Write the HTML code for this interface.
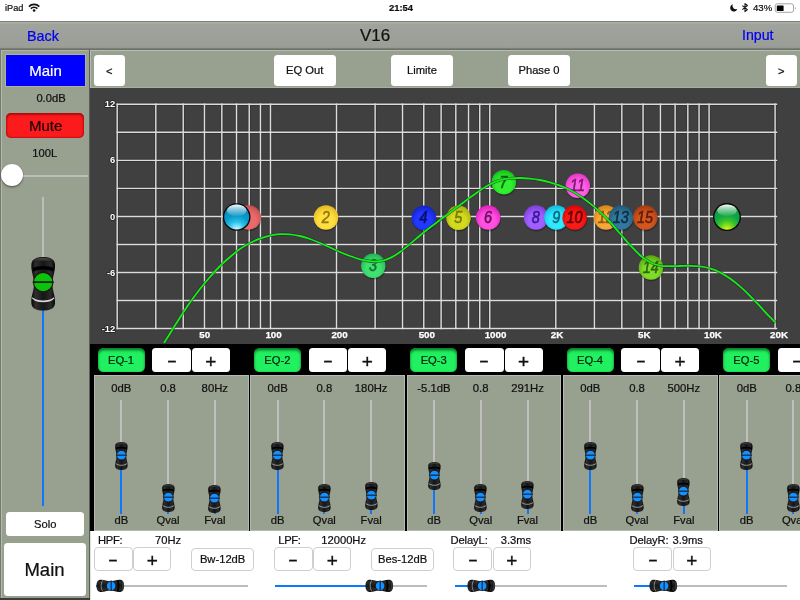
<!DOCTYPE html>
<html><head><meta charset="utf-8"><title>V16</title>
<style>
html,body{margin:0;padding:0;}
body{width:800px;height:600px;position:relative;overflow:hidden;background:#3c3e3a;font-family:"Liberation Sans",sans-serif;}
div,span.t{position:absolute;box-sizing:border-box;}
span.s{position:absolute;width:20px;line-height:20px;text-align:center;color:#111;-webkit-text-stroke:.35px #111;}
span.t{white-space:nowrap;-webkit-text-stroke:.22px currentColor;}
.btn{background:#fff;border-radius:3.5px;}
.btn2{background:#fff;border-radius:4px;border:1px solid #cfcfcf;}
.panel{background:#98a090;box-shadow:inset 0 0 0 1px #b4bab0;}
svg{position:absolute;left:0;top:0;overflow:visible;}
</style></head><body>

<div id="status" style="left:0;top:0;width:800px;height:21.5px;background:#fff"></div>
<span class="t" style="left:5.00px;top:4.06px;font-size:9.2px;line-height:9.2px;color:#111;font-weight:normal;font-style:normal;">iPad</span>
<span class="t" style="left:401.00px;top:3.39px;font-size:9.4px;line-height:9.4px;color:#111;font-weight:bold;font-style:normal;transform:translateX(-50%);">21:54</span>
<span class="t" style="left:753.00px;top:2.92px;font-size:9.6px;line-height:9.6px;color:#111;font-weight:normal;font-style:normal;">43%</span>
<svg width="800" height="22" viewBox="0 0 800 22">
<g fill="none" stroke="#111" stroke-width="1.6" stroke-linecap="butt">
<path d="M28.9 6.6 A7.3 7.3 0 0 1 39.3 6.6"/>
<path d="M30.8 8.6 A4.6 4.6 0 0 1 37.4 8.6"/>
</g>
<circle cx="34.1" cy="10.5" r="1.3" fill="#111"/>
<path d="M732.7 4.3 A3.7 3.7 0 1 0 737.4 8.9 A3.5 3.5 0 0 1 732.7 4.3 Z" fill="#111"/>
<path d="M742.3 5.6 L747.4 9.7 L745 11.6 L745 3.6 L747.4 5.5 L742.3 9.6" fill="none" stroke="#111" stroke-width="1.05" stroke-linejoin="round"/>
<rect x="775.2" y="3.8" width="18.4" height="8.5" rx="2.2" fill="#fff" stroke="#a4a4a4" stroke-width="1"/>
<rect x="776.8" y="5.4" width="6.8" height="5.6" rx="0.6" fill="#000"/>
<path d="M795 6.9 v2.6 a1.2 1.4 0 0 0 0 -2.6z" fill="#9a9a9a"/>
</svg>
<div id="nav" style="left:0;top:21.3px;width:800px;height:28.7px;background:linear-gradient(to bottom,#787b75 0,#7e817b .9px,#adb1a8 1.3px,#a6aaa1 2.2px,#a0a39b 3.2px,#9ea199 14px,#9b9e96 26.2px,#90948b 27.2px,#6c7068 27.7px,#6c7068 28.7px)"></div>
<span class="t" style="left:27.00px;top:29.35px;font-size:14.3px;line-height:14.3px;color:#0000f0;font-weight:normal;font-style:normal;">Back</span>
<span class="t" style="left:375.00px;top:27.26px;font-size:17px;line-height:17px;color:#111;font-weight:normal;font-style:normal;transform:translateX(-50%);">V16</span>
<span class="t" style="left:742.00px;top:28.13px;font-size:14.2px;line-height:14.2px;color:#0000f0;font-weight:normal;font-style:normal;">Input</span>
<div class="panel" style="left:0.00px;top:49.70px;width:89.50px;height:548.80px;box-shadow:inset .9px 0 0 #6e726a, inset 1.9px 0 0 #b6bcb1, inset -1px 0 0 #aeb4a9, inset 0 1.1px 0 #adb4a6;"></div>
<div class="" style="left:89.10px;top:49.20px;width:1.20px;height:550.80px;background:#5a5e57;"></div>
<div class="" style="left:0.00px;top:598.00px;width:90.00px;height:2.00px;background:#3c3e3a;"></div>
<div class="" style="left:6.00px;top:54.65px;width:78.50px;height:31.35px;background:#0000ff;box-shadow:0 0 0 0.7px #b9b98a;"></div>
<span class="t" style="left:45.50px;top:63.35px;font-size:15px;line-height:15px;color:#fff;font-weight:normal;font-style:normal;transform:translateX(-50%);">Main</span>
<span class="t" style="left:51.00px;top:92.87px;font-size:11.2px;line-height:11.2px;color:#111;font-weight:normal;font-style:normal;transform:translateX(-50%);">0.0dB</span>
<div class="" style="left:6.00px;top:113.00px;width:78.00px;height:25.00px;background:#fb1a1c;border-radius:5px;box-shadow:inset 0 2px 2px rgba(120,0,0,.55), inset 0 -1px 1px rgba(150,0,0,.35), inset 1.5px 0 1.5px rgba(150,0,0,.3), inset -1.5px 0 1.5px rgba(150,0,0,.3);"></div>
<span class="t" style="left:45.70px;top:118.35px;font-size:15px;line-height:15px;color:#1a0000;font-weight:normal;font-style:normal;transform:translateX(-50%);">Mute</span>
<span class="t" style="left:44.70px;top:148.17px;font-size:11.2px;line-height:11.2px;color:#111;font-weight:normal;font-style:normal;transform:translateX(-50%);">100L</span>
<div class="" style="left:20.00px;top:175.20px;width:68.00px;height:1.60px;background:#bdbdbd;"></div>
<div class="" style="left:1.00px;top:163.80px;width:22.20px;height:22.20px;background:#fff;border-radius:50%;box-shadow:0 1.5px 2px rgba(0,0,0,.35),0 0 0 .5px rgba(0,0,0,.12);"></div>
<div class="" style="left:42.10px;top:197.00px;width:1.80px;height:88.00px;background:#bdbdbd;"></div>
<div class="" style="left:42.00px;top:300.00px;width:2.00px;height:206.00px;background:#0a78ff;"></div>
<svg width="24.40" height="53.50" viewBox="0 0 24 53" preserveAspectRatio="none" style="left:30.80px;top:256.75px;">
<defs><linearGradient id="kg1" x1="0" x2="1" y1="0" y2="0"><stop offset="0" stop-color="#050505"/><stop offset=".18" stop-color="#2e2e2e"/><stop offset=".5" stop-color="#161616"/><stop offset=".82" stop-color="#2a2a2a"/><stop offset="1" stop-color="#050505"/></linearGradient>
<linearGradient id="kh1" x1="0" x2="0" y1="0" y2="1"><stop offset="0" stop-color="#4a4a4a"/><stop offset="1" stop-color="#0a0a0a"/></linearGradient></defs>
<path d="M12 0C18 0 23 1.5 23.6 7C24.2 14 21 20 21 26.5C21 33 24.2 39 23.6 46C23 51.5 18 53 12 53C6 53 1 51.5 .4 46C-.2 39 3 33 3 26.5C3 20 -.2 14 .4 7C1 1.5 6 0 12 0Z" fill="url(#kg1)"/>
<path d="M1.2 6.5C3 2.2 8 1 12 1C16 1 21 2.2 22.8 6.5C20 4.6 16 4 12 4C8 4 4 4.6 1.2 6.5Z" fill="url(#kh1)"/>
<path d="M1.5 11C6 8.2 18 8.2 22.5 11C22.3 12.5 22 13.6 21.8 14.4C17 11.6 7 11.6 2.2 14.4C2 13.6 1.7 12.5 1.5 11Z" fill="#000"/>
<path d="M1.4 39.9C6 44.3 18 44.3 22.6 39.9C22.7 40.3 22.8 40.7 22.9 41.1C18 46.2 6 46.2 1.1 41.1C1.2 40.7 1.3 40.3 1.4 39.9Z" fill="#ececec" opacity="0.9"/>

<circle cx="12" cy="24.9" r="10.1" fill="#1c1210"/>
<circle cx="12" cy="24.9" r="9.0" fill="#0cc30c"/>
<rect x="1.8" y="24.0" width="20.4" height="1.8" fill="#0b5a0b"/>
<rect x="1.8" y="24.25" width="20.4" height="1.3" fill="#0c1410" opacity=".9"/>
</svg>
<div class="btn" style="left:6.20px;top:512.00px;width:78.20px;height:24.00px;"></div>
<span class="t" style="left:45.20px;top:518.97px;font-size:11.2px;line-height:11.2px;color:#111;font-weight:normal;font-style:normal;transform:translateX(-50%);">Solo</span>
<div class="btn" style="left:4.20px;top:543.00px;width:81.60px;height:52.80px;"></div>
<span class="t" style="left:44.50px;top:560.79px;font-size:18.5px;line-height:18.5px;color:#111;font-weight:normal;font-style:normal;transform:translateX(-50%);">Main</span>
<div class="panel" style="left:90.20px;top:49.70px;width:709.80px;height:38.30px;box-shadow:inset 1px 0 0 #b6bcb1, inset 0 1px 0 #b6bcb1, inset 0 -1px 0 #a9afa4;"></div>
<div class="btn" style="left:94.00px;top:55.00px;width:30.80px;height:30.60px;"></div>
<span class="t" style="left:109.40px;top:65.97px;font-size:11.2px;line-height:11.2px;color:#111;font-weight:normal;font-style:normal;transform:translateX(-50%);">&lt;</span>
<div class="btn" style="left:273.60px;top:55.00px;width:62.00px;height:30.60px;"></div>
<span class="t" style="left:304.60px;top:65.37px;font-size:11.2px;line-height:11.2px;color:#111;font-weight:normal;font-style:normal;transform:translateX(-50%);">EQ Out</span>
<div class="btn" style="left:391.00px;top:55.00px;width:61.90px;height:30.60px;"></div>
<span class="t" style="left:421.95px;top:65.37px;font-size:11.2px;line-height:11.2px;color:#111;font-weight:normal;font-style:normal;transform:translateX(-50%);">Limite</span>
<div class="btn" style="left:508.20px;top:55.00px;width:61.60px;height:30.60px;"></div>
<span class="t" style="left:539.00px;top:65.37px;font-size:11.2px;line-height:11.2px;color:#111;font-weight:normal;font-style:normal;transform:translateX(-50%);">Phase 0</span>
<div class="btn" style="left:766.00px;top:55.00px;width:30.60px;height:30.60px;"></div>
<span class="t" style="left:781.30px;top:65.97px;font-size:11.2px;line-height:11.2px;color:#111;font-weight:normal;font-style:normal;transform:translateX(-50%);">&gt;</span>
<div class="" style="left:90.20px;top:88.00px;width:709.80px;height:255.70px;background:#404040;"></div>
<svg width="800" height="600" viewBox="0 0 800 600">
<defs><clipPath id="cc"><rect x="90.5" y="88" width="709.5" height="255.5"/></clipPath>
<radialGradient id="b1" cx=".5" cy=".62" r=".6"><stop offset="0" stop-color="#e86a6a"/><stop offset=".5" stop-color="#e86a6a"/><stop offset="1" stop-color="#c85050"/></radialGradient>
<radialGradient id="b2" cx=".5" cy=".62" r=".6"><stop offset="0" stop-color="#ffe040"/><stop offset=".5" stop-color="#ffe040"/><stop offset="1" stop-color="#e8b820"/></radialGradient>
<radialGradient id="b3" cx=".5" cy=".62" r=".6"><stop offset="0" stop-color="#40e070"/><stop offset=".5" stop-color="#40e070"/><stop offset="1" stop-color="#20b850"/></radialGradient>
<radialGradient id="b4" cx=".5" cy=".62" r=".6"><stop offset="0" stop-color="#2238ff"/><stop offset=".5" stop-color="#2238ff"/><stop offset="1" stop-color="#1424c8"/></radialGradient>
<radialGradient id="b5" cx=".5" cy=".62" r=".6"><stop offset="0" stop-color="#d2da1e"/><stop offset=".5" stop-color="#d2da1e"/><stop offset="1" stop-color="#aab010"/></radialGradient>
<radialGradient id="b6" cx=".5" cy=".62" r=".6"><stop offset="0" stop-color="#ff50e0"/><stop offset=".5" stop-color="#ff50e0"/><stop offset="1" stop-color="#e020c0"/></radialGradient>
<radialGradient id="b7" cx=".5" cy=".62" r=".6"><stop offset="0" stop-color="#30f030"/><stop offset=".5" stop-color="#30f030"/><stop offset="1" stop-color="#18c018"/></radialGradient>
<radialGradient id="b8" cx=".5" cy=".62" r=".6"><stop offset="0" stop-color="#a060ff"/><stop offset=".5" stop-color="#a060ff"/><stop offset="1" stop-color="#8040e0"/></radialGradient>
<radialGradient id="b9" cx=".5" cy=".62" r=".6"><stop offset="0" stop-color="#30e8ff"/><stop offset=".5" stop-color="#30e8ff"/><stop offset="1" stop-color="#10c0e0"/></radialGradient>
<radialGradient id="b10" cx=".5" cy=".62" r=".6"><stop offset="0" stop-color="#ff1818"/><stop offset=".5" stop-color="#ff1818"/><stop offset="1" stop-color="#d80808"/></radialGradient>
<radialGradient id="b11" cx=".5" cy=".62" r=".6"><stop offset="0" stop-color="#ff60e8"/><stop offset=".5" stop-color="#ff60e8"/><stop offset="1" stop-color="#e838c8"/></radialGradient>
<radialGradient id="b12" cx=".5" cy=".62" r=".6"><stop offset="0" stop-color="#f8a838"/><stop offset=".5" stop-color="#f8a838"/><stop offset="1" stop-color="#d88818"/></radialGradient>
<radialGradient id="b13" cx=".5" cy=".62" r=".6"><stop offset="0" stop-color="#33789e"/><stop offset=".5" stop-color="#33789e"/><stop offset="1" stop-color="#205a78"/></radialGradient>
<radialGradient id="b14" cx=".5" cy=".62" r=".6"><stop offset="0" stop-color="#80dc28"/><stop offset=".5" stop-color="#80dc28"/><stop offset="1" stop-color="#58a810"/></radialGradient>
<radialGradient id="b15" cx=".5" cy=".62" r=".6"><stop offset="0" stop-color="#d4561f"/><stop offset=".5" stop-color="#d4561f"/><stop offset="1" stop-color="#a83c10"/></radialGradient>
<radialGradient id="hp" cx=".5" cy="1.02" r=".95"><stop offset="0" stop-color="#f4ffff"/><stop offset=".12" stop-color="#9aeaff"/><stop offset=".35" stop-color="#2cc0e8"/><stop offset=".6" stop-color="#0a9acb"/><stop offset="1" stop-color="#0b86b6"/></radialGradient>
<linearGradient id="gl" x1="0" x2="0" y1="0" y2="1"><stop offset="0" stop-color="#fff" stop-opacity=".98"/><stop offset=".35" stop-color="#fff" stop-opacity=".6"/><stop offset="1" stop-color="#fff" stop-opacity=".05"/></linearGradient>
<radialGradient id="lp" cx=".5" cy="1.02" r=".95"><stop offset="0" stop-color="#f4f818"/><stop offset=".14" stop-color="#a8e81c"/><stop offset=".4" stop-color="#38c428"/><stop offset=".62" stop-color="#10a648"/><stop offset="1" stop-color="#0e9a40"/></radialGradient>
</defs>
<g stroke="#2c2c2c" stroke-width="3.2" fill="none" opacity=".55">
<path d="M116.6 104.30H777.2"/>
<path d="M116.6 132.33H777.2"/>
<path d="M116.6 160.36H777.2"/>
<path d="M116.6 188.39H777.2"/>
<path d="M116.6 216.42H777.2"/>
<path d="M116.6 244.45H777.2"/>
<path d="M116.6 272.48H777.2"/>
<path d="M116.6 300.51H777.2"/>
<path d="M116.6 328.54H777.2"/>
<path d="M117.20 103.5V329.2"/>
<path d="M155.82 103.5V329.2"/>
<path d="M183.22 103.5V329.2"/>
<path d="M204.47 103.5V329.2"/>
<path d="M221.83 103.5V329.2"/>
<path d="M236.51 103.5V329.2"/>
<path d="M249.23 103.5V329.2"/>
<path d="M260.45 103.5V329.2"/>
<path d="M270.48 103.5V329.2"/>
<path d="M336.50 103.5V329.2"/>
<path d="M375.12 103.5V329.2"/>
<path d="M402.52 103.5V329.2"/>
<path d="M423.77 103.5V329.2"/>
<path d="M441.13 103.5V329.2"/>
<path d="M455.81 103.5V329.2"/>
<path d="M468.53 103.5V329.2"/>
<path d="M479.75 103.5V329.2"/>
<path d="M489.78 103.5V329.2"/>
<path d="M555.80 103.5V329.2"/>
<path d="M594.42 103.5V329.2"/>
<path d="M621.82 103.5V329.2"/>
<path d="M643.07 103.5V329.2"/>
<path d="M660.43 103.5V329.2"/>
<path d="M675.11 103.5V329.2"/>
<path d="M687.83 103.5V329.2"/>
<path d="M699.05 103.5V329.2"/>
<path d="M709.08 103.5V329.2"/>
<path d="M775.10 103.5V329.2"/>
</g>
<g stroke="#dcdcdc" stroke-width="1.45" fill="none">
<path d="M116.6 104.30H777.2"/>
<path d="M116.6 132.33H777.2"/>
<path d="M116.6 160.36H777.2"/>
<path d="M116.6 188.39H777.2"/>
<path d="M116.6 216.42H777.2"/>
<path d="M116.6 244.45H777.2"/>
<path d="M116.6 272.48H777.2"/>
<path d="M116.6 300.51H777.2"/>
<path d="M116.6 328.54H777.2"/>
<path d="M117.20 103.5V329.2"/>
<path d="M155.82 103.5V329.2"/>
<path d="M183.22 103.5V329.2"/>
<path d="M204.47 103.5V329.2"/>
<path d="M221.83 103.5V329.2"/>
<path d="M236.51 103.5V329.2"/>
<path d="M249.23 103.5V329.2"/>
<path d="M260.45 103.5V329.2"/>
<path d="M270.48 103.5V329.2"/>
<path d="M336.50 103.5V329.2"/>
<path d="M375.12 103.5V329.2"/>
<path d="M402.52 103.5V329.2"/>
<path d="M423.77 103.5V329.2"/>
<path d="M441.13 103.5V329.2"/>
<path d="M455.81 103.5V329.2"/>
<path d="M468.53 103.5V329.2"/>
<path d="M479.75 103.5V329.2"/>
<path d="M489.78 103.5V329.2"/>
<path d="M555.80 103.5V329.2"/>
<path d="M594.42 103.5V329.2"/>
<path d="M621.82 103.5V329.2"/>
<path d="M643.07 103.5V329.2"/>
<path d="M660.43 103.5V329.2"/>
<path d="M675.11 103.5V329.2"/>
<path d="M687.83 103.5V329.2"/>
<path d="M699.05 103.5V329.2"/>
<path d="M709.08 103.5V329.2"/>
<path d="M775.10 103.5V329.2"/>
</g>
<text x="115.3" y="107.40" text-anchor="end" font-size="9.4" font-weight="bold" fill="#fff" stroke="#222" stroke-width="1.6" paint-order="stroke" stroke-linejoin="round">12</text>
<text x="115.3" y="163.46" text-anchor="end" font-size="9.4" font-weight="bold" fill="#fff" stroke="#222" stroke-width="1.6" paint-order="stroke" stroke-linejoin="round">6</text>
<text x="115.3" y="219.52" text-anchor="end" font-size="9.4" font-weight="bold" fill="#fff" stroke="#222" stroke-width="1.6" paint-order="stroke" stroke-linejoin="round">0</text>
<text x="115.3" y="275.58" text-anchor="end" font-size="9.4" font-weight="bold" fill="#fff" stroke="#222" stroke-width="1.6" paint-order="stroke" stroke-linejoin="round">-6</text>
<text x="115.3" y="331.64" text-anchor="end" font-size="9.4" font-weight="bold" fill="#fff" stroke="#222" stroke-width="1.6" paint-order="stroke" stroke-linejoin="round">-12</text>
<text x="199.37" y="338.2" font-size="9.8" font-weight="bold" fill="#fff" stroke="#fff" stroke-width=".25">50</text>
<text x="265.38" y="338.2" font-size="9.8" font-weight="bold" fill="#fff" stroke="#fff" stroke-width=".25">100</text>
<text x="331.40" y="338.2" font-size="9.8" font-weight="bold" fill="#fff" stroke="#fff" stroke-width=".25">200</text>
<text x="418.67" y="338.2" font-size="9.8" font-weight="bold" fill="#fff" stroke="#fff" stroke-width=".25">500</text>
<text x="484.68" y="338.2" font-size="9.8" font-weight="bold" fill="#fff" stroke="#fff" stroke-width=".25">1000</text>
<text x="550.70" y="338.2" font-size="9.8" font-weight="bold" fill="#fff" stroke="#fff" stroke-width=".25">2K</text>
<text x="637.97" y="338.2" font-size="9.8" font-weight="bold" fill="#fff" stroke="#fff" stroke-width=".25">5K</text>
<text x="703.98" y="338.2" font-size="9.8" font-weight="bold" fill="#fff" stroke="#fff" stroke-width=".25">10K</text>
<text x="770.00" y="338.2" font-size="9.8" font-weight="bold" fill="#fff" stroke="#fff" stroke-width=".25">20K</text>
<circle cx="249.0" cy="218.7" r="12.6" fill="#000" opacity=".28"/><circle cx="248.6" cy="217.5" r="12.25" fill="url(#b1)"/>
<circle cx="236.7" cy="217" r="13.8" fill="#0a0608"/><circle cx="236.7" cy="217" r="12.5" fill="url(#hp)"/><ellipse cx="236.7" cy="210.3" rx="9.8" ry="5.9" fill="url(#gl)"/>
<circle cx="326.4" cy="218.7" r="12.6" fill="#000" opacity=".28"/><circle cx="326" cy="217.5" r="12.25" fill="url(#b2)"/><text transform="translate(325.80 223.10) scale(.9 1)" text-anchor="middle" font-size="16" font-style="italic" fill="#8a6a10" stroke="#8a6a10" stroke-width=".6" opacity=".9">2</text>
<circle cx="373.7" cy="267.0" r="12.6" fill="#000" opacity=".28"/><circle cx="373.3" cy="265.8" r="12.25" fill="url(#b3)"/><text transform="translate(373.10 271.40) scale(.9 1)" text-anchor="middle" font-size="16" font-style="italic" fill="#0a6a2a" stroke="#0a6a2a" stroke-width=".6" opacity=".9">3</text>
<circle cx="424.2" cy="219.0" r="12.6" fill="#000" opacity=".28"/><circle cx="423.8" cy="217.8" r="12.25" fill="url(#b4)"/><text transform="translate(423.60 223.40) scale(.9 1)" text-anchor="middle" font-size="16" font-style="italic" fill="#060a60" stroke="#060a60" stroke-width=".6" opacity=".9">4</text>
<circle cx="458.9" cy="219.0" r="12.6" fill="#000" opacity=".28"/><circle cx="458.5" cy="217.8" r="12.25" fill="url(#b5)"/><text transform="translate(458.30 223.40) scale(.9 1)" text-anchor="middle" font-size="16" font-style="italic" fill="#6a7008" stroke="#6a7008" stroke-width=".6" opacity=".9">5</text>
<circle cx="488.59999999999997" cy="218.79999999999998" r="12.6" fill="#000" opacity=".28"/><circle cx="488.2" cy="217.6" r="12.25" fill="url(#b6)"/><text transform="translate(488.00 223.20) scale(.9 1)" text-anchor="middle" font-size="16" font-style="italic" fill="#5a0a50" stroke="#5a0a50" stroke-width=".6" opacity=".9">6</text>
<circle cx="504.2" cy="183.39999999999998" r="12.6" fill="#000" opacity=".28"/><circle cx="503.8" cy="182.2" r="12.25" fill="url(#b7)"/><text transform="translate(503.60 187.80) scale(.9 1)" text-anchor="middle" font-size="16" font-style="italic" fill="#0a500a" stroke="#0a500a" stroke-width=".6" opacity=".9">7</text>
<circle cx="536.4" cy="218.79999999999998" r="12.6" fill="#000" opacity=".28"/><circle cx="536" cy="217.6" r="12.25" fill="url(#b8)"/><text transform="translate(535.80 223.20) scale(.9 1)" text-anchor="middle" font-size="16" font-style="italic" fill="#30108a" stroke="#30108a" stroke-width=".6" opacity=".9">8</text>
<circle cx="556.8" cy="218.79999999999998" r="12.6" fill="#000" opacity=".28"/><circle cx="556.4" cy="217.6" r="12.25" fill="url(#b9)"/><text transform="translate(556.20 223.20) scale(.9 1)" text-anchor="middle" font-size="16" font-style="italic" fill="#0a5a70" stroke="#0a5a70" stroke-width=".6" opacity=".9">9</text>
<circle cx="575.1" cy="218.79999999999998" r="12.6" fill="#000" opacity=".28"/><circle cx="574.7" cy="217.6" r="12.25" fill="url(#b10)"/><text transform="translate(574.50 223.20) scale(.9 1)" text-anchor="middle" font-size="16" font-style="italic" fill="#500000" stroke="#500000" stroke-width=".6" opacity=".9">10</text>
<circle cx="578.1999999999999" cy="187.0" r="12.6" fill="#000" opacity=".28"/><circle cx="577.8" cy="185.8" r="12.25" fill="url(#b11)"/><text transform="translate(577.60 191.40) scale(.9 1)" text-anchor="middle" font-size="16" font-style="italic" fill="#701060" stroke="#701060" stroke-width=".6" opacity=".9">11</text>
<circle cx="606.4" cy="218.79999999999998" r="12.6" fill="#000" opacity=".28"/><circle cx="606" cy="217.6" r="12.25" fill="url(#b12)"/><text transform="translate(605.80 223.20) scale(.9 1)" text-anchor="middle" font-size="16" font-style="italic" fill="#8a5008" stroke="#8a5008" stroke-width=".6" opacity=".9">12</text>
<circle cx="621.4" cy="218.79999999999998" r="12.6" fill="#000" opacity=".28"/><circle cx="621" cy="217.6" r="12.25" fill="url(#b13)"/><text transform="translate(620.80 223.20) scale(.9 1)" text-anchor="middle" font-size="16" font-style="italic" fill="#08283a" stroke="#08283a" stroke-width=".6" opacity=".9">13</text>
<circle cx="651.4" cy="268.7" r="12.6" fill="#000" opacity=".28"/><circle cx="651" cy="267.5" r="12.25" fill="url(#b14)"/><text transform="translate(650.80 273.10) scale(.9 1)" text-anchor="middle" font-size="16" font-style="italic" fill="#2a5a08" stroke="#2a5a08" stroke-width=".6" opacity=".9">14</text>
<circle cx="645.6999999999999" cy="218.79999999999998" r="12.6" fill="#000" opacity=".28"/><circle cx="645.3" cy="217.6" r="12.25" fill="url(#b15)"/><text transform="translate(645.10 223.20) scale(.9 1)" text-anchor="middle" font-size="16" font-style="italic" fill="#501808" stroke="#501808" stroke-width=".6" opacity=".9">15</text>
<circle cx="727" cy="217.05" r="13.95" fill="#0a0608"/><circle cx="727" cy="217.05" r="12.6" fill="url(#lp)"/><ellipse cx="727" cy="210.3" rx="9.8" ry="5.9" fill="url(#gl)"/>
<g clip-path="url(#cc)" fill="none" stroke-linejoin="round"><path d="M164 343C165.00 341.42 167.33 337.75 170 333.5C172.67 329.25 176.67 322.67 180 317.5C183.33 312.33 186.67 307.25 190 302.5C193.33 297.75 196.67 293.25 200 289C203.33 284.75 206.67 280.83 210 277C213.33 273.17 216.67 269.33 220 266C223.33 262.67 226.67 259.83 230 257C233.33 254.17 236.67 251.33 240 249C243.33 246.67 246.67 244.73 250 243C253.33 241.27 256.67 239.83 260 238.6C263.33 237.37 266.67 236.33 270 235.6C273.33 234.87 276.67 234.42 280 234.2C283.33 233.98 286.67 234.00 290 234.3C293.33 234.60 296.67 235.22 300 236C303.33 236.78 306.67 237.83 310 239C313.33 240.17 316.67 241.58 320 243C323.33 244.42 326.67 246.00 330 247.5C333.33 249.00 336.67 250.58 340 252C343.33 253.42 346.67 254.78 350 256C353.33 257.22 356.67 258.43 360 259.3C363.33 260.17 367.33 260.83 370 261.2C372.67 261.57 373.83 261.60 376 261.5C378.17 261.40 380.67 261.15 383 260.6C385.33 260.05 387.17 259.63 390 258.2C392.83 256.77 396.67 254.37 400 252C403.33 249.63 406.67 246.75 410 244C413.33 241.25 416.67 238.23 420 235.5C423.33 232.77 426.67 230.18 430 227.6C433.33 225.02 436.67 222.53 440 220C443.33 217.47 446.67 214.90 450 212.4C453.33 209.90 456.67 207.47 460 205C463.33 202.53 466.67 200.03 470 197.6C473.33 195.17 476.67 192.63 480 190.4C483.33 188.17 486.67 185.90 490 184.2C493.33 182.50 496.67 181.17 500 180.2C503.33 179.23 506.67 178.77 510 178.4C513.33 178.03 516.67 177.97 520 178C523.33 178.03 526.67 178.27 530 178.6C533.33 178.93 536.67 179.37 540 180C543.33 180.63 546.67 181.47 550 182.4C553.33 183.33 556.67 184.33 560 185.6C563.33 186.87 566.67 188.27 570 190C573.33 191.73 576.67 193.77 580 196C583.33 198.23 586.67 200.73 590 203.4C593.33 206.07 596.67 208.90 600 212C603.33 215.10 606.67 218.42 610 222C613.33 225.58 616.67 229.67 620 233.5C623.33 237.33 626.67 241.38 630 245C633.33 248.62 636.67 252.33 640 255.2C643.33 258.07 646.67 260.47 650 262.2C653.33 263.93 656.67 264.93 660 265.6C663.33 266.27 666.67 266.13 670 266.2C673.33 266.27 676.67 266.07 680 266C683.33 265.93 686.67 265.73 690 265.8C693.33 265.87 696.67 265.97 700 266.4C703.33 266.83 706.67 267.40 710 268.4C713.33 269.40 716.67 270.70 720 272.4C723.33 274.10 726.67 276.27 730 278.6C733.33 280.93 736.67 283.53 740 286.4C743.33 289.27 746.67 292.47 750 295.8C753.33 299.13 756.67 302.83 760 306.4C763.33 309.97 767.38 314.50 770 317.2C772.62 319.90 774.75 321.70 775.7 322.6" stroke="#3a0a4a" stroke-width="2.9" opacity=".7"/><path d="M164 343C165.00 341.42 167.33 337.75 170 333.5C172.67 329.25 176.67 322.67 180 317.5C183.33 312.33 186.67 307.25 190 302.5C193.33 297.75 196.67 293.25 200 289C203.33 284.75 206.67 280.83 210 277C213.33 273.17 216.67 269.33 220 266C223.33 262.67 226.67 259.83 230 257C233.33 254.17 236.67 251.33 240 249C243.33 246.67 246.67 244.73 250 243C253.33 241.27 256.67 239.83 260 238.6C263.33 237.37 266.67 236.33 270 235.6C273.33 234.87 276.67 234.42 280 234.2C283.33 233.98 286.67 234.00 290 234.3C293.33 234.60 296.67 235.22 300 236C303.33 236.78 306.67 237.83 310 239C313.33 240.17 316.67 241.58 320 243C323.33 244.42 326.67 246.00 330 247.5C333.33 249.00 336.67 250.58 340 252C343.33 253.42 346.67 254.78 350 256C353.33 257.22 356.67 258.43 360 259.3C363.33 260.17 367.33 260.83 370 261.2C372.67 261.57 373.83 261.60 376 261.5C378.17 261.40 380.67 261.15 383 260.6C385.33 260.05 387.17 259.63 390 258.2C392.83 256.77 396.67 254.37 400 252C403.33 249.63 406.67 246.75 410 244C413.33 241.25 416.67 238.23 420 235.5C423.33 232.77 426.67 230.18 430 227.6C433.33 225.02 436.67 222.53 440 220C443.33 217.47 446.67 214.90 450 212.4C453.33 209.90 456.67 207.47 460 205C463.33 202.53 466.67 200.03 470 197.6C473.33 195.17 476.67 192.63 480 190.4C483.33 188.17 486.67 185.90 490 184.2C493.33 182.50 496.67 181.17 500 180.2C503.33 179.23 506.67 178.77 510 178.4C513.33 178.03 516.67 177.97 520 178C523.33 178.03 526.67 178.27 530 178.6C533.33 178.93 536.67 179.37 540 180C543.33 180.63 546.67 181.47 550 182.4C553.33 183.33 556.67 184.33 560 185.6C563.33 186.87 566.67 188.27 570 190C573.33 191.73 576.67 193.77 580 196C583.33 198.23 586.67 200.73 590 203.4C593.33 206.07 596.67 208.90 600 212C603.33 215.10 606.67 218.42 610 222C613.33 225.58 616.67 229.67 620 233.5C623.33 237.33 626.67 241.38 630 245C633.33 248.62 636.67 252.33 640 255.2C643.33 258.07 646.67 260.47 650 262.2C653.33 263.93 656.67 264.93 660 265.6C663.33 266.27 666.67 266.13 670 266.2C673.33 266.27 676.67 266.07 680 266C683.33 265.93 686.67 265.73 690 265.8C693.33 265.87 696.67 265.97 700 266.4C703.33 266.83 706.67 267.40 710 268.4C713.33 269.40 716.67 270.70 720 272.4C723.33 274.10 726.67 276.27 730 278.6C733.33 280.93 736.67 283.53 740 286.4C743.33 289.27 746.67 292.47 750 295.8C753.33 299.13 756.67 302.83 760 306.4C763.33 309.97 767.38 314.50 770 317.2C772.62 319.90 774.75 321.70 775.7 322.6" stroke="#0cf40c" stroke-width="1.85"/></g>
</svg>
<div class="" style="left:90.20px;top:343.70px;width:709.80px;height:187.30px;background:#000;"></div>
<div class="" style="left:97.50px;top:347.80px;width:47.00px;height:24.60px;background:#21f060;border-radius:5.5px;box-shadow:inset 0 2.5px 2.5px rgba(0,90,25,.7), inset 0 0 2px rgba(0,110,30,.5);"></div>
<span class="t" style="left:121.00px;top:354.97px;font-size:11.2px;line-height:11.2px;color:#00280a;font-weight:normal;font-style:normal;transform:translateX(-50%);">EQ-1</span>
<div class="btn" style="left:152.40px;top:348.00px;width:38.60px;height:24.00px;"></div>
<div class="btn" style="left:192.00px;top:348.00px;width:38.00px;height:24.00px;"></div>
<span class="s" style="left:161.60px;top:350.50px;font-size:18px;transform:scaleX(1.65);">-</span>
<span class="s" style="left:200.90px;top:351.80px;font-size:19px;">+</span>
<div class="panel" style="left:93.80px;top:375.40px;width:154.80px;height:155.60px;"></div>
<span class="t" style="left:121.30px;top:382.58px;font-size:11.3px;line-height:11.3px;color:#111;font-weight:normal;font-style:normal;transform:translateX(-50%);">0dB</span>
<span class="t" style="left:168.00px;top:382.58px;font-size:11.3px;line-height:11.3px;color:#111;font-weight:normal;font-style:normal;transform:translateX(-50%);">0.8</span>
<span class="t" style="left:214.80px;top:382.58px;font-size:11.3px;line-height:11.3px;color:#111;font-weight:normal;font-style:normal;transform:translateX(-50%);">80Hz</span>
<div class="" style="left:120.30px;top:400.20px;width:2.00px;height:56.00px;background:#bfbfbf;"></div>
<div class="" style="left:120.30px;top:456.20px;width:2.00px;height:57.60px;background:#0a78ff;"></div>
<svg width="12.80" height="28.00" viewBox="0 0 24 53" preserveAspectRatio="none" style="left:114.90px;top:442.20px;">
<defs><linearGradient id="kg2" x1="0" x2="1" y1="0" y2="0"><stop offset="0" stop-color="#050505"/><stop offset=".18" stop-color="#2e2e2e"/><stop offset=".5" stop-color="#161616"/><stop offset=".82" stop-color="#2a2a2a"/><stop offset="1" stop-color="#050505"/></linearGradient>
<linearGradient id="kh2" x1="0" x2="0" y1="0" y2="1"><stop offset="0" stop-color="#4a4a4a"/><stop offset="1" stop-color="#0a0a0a"/></linearGradient></defs>
<path d="M12 0C18 0 23 1.5 23.6 7C24.2 14 21 20 21 26.5C21 33 24.2 39 23.6 46C23 51.5 18 53 12 53C6 53 1 51.5 .4 46C-.2 39 3 33 3 26.5C3 20 -.2 14 .4 7C1 1.5 6 0 12 0Z" fill="url(#kg2)"/>
<path d="M1.2 6.5C3 2.2 8 1 12 1C16 1 21 2.2 22.8 6.5C20 4.6 16 4 12 4C8 4 4 4.6 1.2 6.5Z" fill="url(#kh2)"/>
<path d="M1.5 11C6 8.2 18 8.2 22.5 11C22.3 12.5 22 13.6 21.8 14.4C17 11.6 7 11.6 2.2 14.4C2 13.6 1.7 12.5 1.5 11Z" fill="#000"/>
<path d="M1.4 39.9C6 44.3 18 44.3 22.6 39.9C22.7 40.3 22.8 40.7 22.9 41.1C18 46.2 6 46.2 1.1 41.1C1.2 40.7 1.3 40.3 1.4 39.9Z" fill="#ececec" opacity="0.55"/>

<circle cx="12" cy="24.9" r="9.5" fill="#1c1210"/>
<circle cx="12" cy="24.9" r="8.4" fill="#1590ff"/>
<rect x="2.3999999999999995" y="24.0" width="19.2" height="1.8" fill="#0a3f7a"/>
<rect x="2.3999999999999995" y="24.25" width="19.2" height="1.3" fill="#0c1410" opacity=".9"/>
</svg>
<span class="t" style="left:121.30px;top:515.37px;font-size:11.2px;line-height:11.2px;color:#111;font-weight:normal;font-style:normal;transform:translateX(-50%);">dB</span>
<div class="" style="left:167.00px;top:400.20px;width:2.00px;height:97.60px;background:#bfbfbf;"></div>
<div class="" style="left:167.00px;top:497.80px;width:2.00px;height:16.00px;background:#0a78ff;"></div>
<svg width="12.80" height="28.00" viewBox="0 0 24 53" preserveAspectRatio="none" style="left:161.60px;top:483.80px;">
<defs><linearGradient id="kg3" x1="0" x2="1" y1="0" y2="0"><stop offset="0" stop-color="#050505"/><stop offset=".18" stop-color="#2e2e2e"/><stop offset=".5" stop-color="#161616"/><stop offset=".82" stop-color="#2a2a2a"/><stop offset="1" stop-color="#050505"/></linearGradient>
<linearGradient id="kh3" x1="0" x2="0" y1="0" y2="1"><stop offset="0" stop-color="#4a4a4a"/><stop offset="1" stop-color="#0a0a0a"/></linearGradient></defs>
<path d="M12 0C18 0 23 1.5 23.6 7C24.2 14 21 20 21 26.5C21 33 24.2 39 23.6 46C23 51.5 18 53 12 53C6 53 1 51.5 .4 46C-.2 39 3 33 3 26.5C3 20 -.2 14 .4 7C1 1.5 6 0 12 0Z" fill="url(#kg3)"/>
<path d="M1.2 6.5C3 2.2 8 1 12 1C16 1 21 2.2 22.8 6.5C20 4.6 16 4 12 4C8 4 4 4.6 1.2 6.5Z" fill="url(#kh3)"/>
<path d="M1.5 11C6 8.2 18 8.2 22.5 11C22.3 12.5 22 13.6 21.8 14.4C17 11.6 7 11.6 2.2 14.4C2 13.6 1.7 12.5 1.5 11Z" fill="#000"/>
<path d="M1.4 39.9C6 44.3 18 44.3 22.6 39.9C22.7 40.3 22.8 40.7 22.9 41.1C18 46.2 6 46.2 1.1 41.1C1.2 40.7 1.3 40.3 1.4 39.9Z" fill="#ececec" opacity="0.55"/>

<circle cx="12" cy="24.9" r="9.5" fill="#1c1210"/>
<circle cx="12" cy="24.9" r="8.4" fill="#1590ff"/>
<rect x="2.3999999999999995" y="24.0" width="19.2" height="1.8" fill="#0a3f7a"/>
<rect x="2.3999999999999995" y="24.25" width="19.2" height="1.3" fill="#0c1410" opacity=".9"/>
</svg>
<span class="t" style="left:168.00px;top:515.37px;font-size:11.2px;line-height:11.2px;color:#111;font-weight:normal;font-style:normal;transform:translateX(-50%);">Qval</span>
<div class="" style="left:213.80px;top:400.20px;width:2.00px;height:98.80px;background:#bfbfbf;"></div>
<div class="" style="left:213.80px;top:499.00px;width:2.00px;height:14.80px;background:#0a78ff;"></div>
<svg width="12.80" height="28.00" viewBox="0 0 24 53" preserveAspectRatio="none" style="left:208.40px;top:485.00px;">
<defs><linearGradient id="kg4" x1="0" x2="1" y1="0" y2="0"><stop offset="0" stop-color="#050505"/><stop offset=".18" stop-color="#2e2e2e"/><stop offset=".5" stop-color="#161616"/><stop offset=".82" stop-color="#2a2a2a"/><stop offset="1" stop-color="#050505"/></linearGradient>
<linearGradient id="kh4" x1="0" x2="0" y1="0" y2="1"><stop offset="0" stop-color="#4a4a4a"/><stop offset="1" stop-color="#0a0a0a"/></linearGradient></defs>
<path d="M12 0C18 0 23 1.5 23.6 7C24.2 14 21 20 21 26.5C21 33 24.2 39 23.6 46C23 51.5 18 53 12 53C6 53 1 51.5 .4 46C-.2 39 3 33 3 26.5C3 20 -.2 14 .4 7C1 1.5 6 0 12 0Z" fill="url(#kg4)"/>
<path d="M1.2 6.5C3 2.2 8 1 12 1C16 1 21 2.2 22.8 6.5C20 4.6 16 4 12 4C8 4 4 4.6 1.2 6.5Z" fill="url(#kh4)"/>
<path d="M1.5 11C6 8.2 18 8.2 22.5 11C22.3 12.5 22 13.6 21.8 14.4C17 11.6 7 11.6 2.2 14.4C2 13.6 1.7 12.5 1.5 11Z" fill="#000"/>
<path d="M1.4 39.9C6 44.3 18 44.3 22.6 39.9C22.7 40.3 22.8 40.7 22.9 41.1C18 46.2 6 46.2 1.1 41.1C1.2 40.7 1.3 40.3 1.4 39.9Z" fill="#ececec" opacity="0.55"/>

<circle cx="12" cy="24.9" r="9.5" fill="#1c1210"/>
<circle cx="12" cy="24.9" r="8.4" fill="#1590ff"/>
<rect x="2.3999999999999995" y="24.0" width="19.2" height="1.8" fill="#0a3f7a"/>
<rect x="2.3999999999999995" y="24.25" width="19.2" height="1.3" fill="#0c1410" opacity=".9"/>
</svg>
<span class="t" style="left:214.80px;top:515.37px;font-size:11.2px;line-height:11.2px;color:#111;font-weight:normal;font-style:normal;transform:translateX(-50%);">Fval</span>
<div class="" style="left:253.85px;top:347.80px;width:47.00px;height:24.60px;background:#21f060;border-radius:5.5px;box-shadow:inset 0 2.5px 2.5px rgba(0,90,25,.7), inset 0 0 2px rgba(0,110,30,.5);"></div>
<span class="t" style="left:277.35px;top:354.97px;font-size:11.2px;line-height:11.2px;color:#00280a;font-weight:normal;font-style:normal;transform:translateX(-50%);">EQ-2</span>
<div class="btn" style="left:308.75px;top:348.00px;width:38.60px;height:24.00px;"></div>
<div class="btn" style="left:348.35px;top:348.00px;width:38.00px;height:24.00px;"></div>
<span class="s" style="left:317.95px;top:350.50px;font-size:18px;transform:scaleX(1.65);">-</span>
<span class="s" style="left:357.25px;top:351.80px;font-size:19px;">+</span>
<div class="panel" style="left:250.15px;top:375.40px;width:154.80px;height:155.60px;"></div>
<span class="t" style="left:277.65px;top:382.58px;font-size:11.3px;line-height:11.3px;color:#111;font-weight:normal;font-style:normal;transform:translateX(-50%);">0dB</span>
<span class="t" style="left:324.35px;top:382.58px;font-size:11.3px;line-height:11.3px;color:#111;font-weight:normal;font-style:normal;transform:translateX(-50%);">0.8</span>
<span class="t" style="left:371.15px;top:382.58px;font-size:11.3px;line-height:11.3px;color:#111;font-weight:normal;font-style:normal;transform:translateX(-50%);">180Hz</span>
<div class="" style="left:276.65px;top:400.20px;width:2.00px;height:56.00px;background:#bfbfbf;"></div>
<div class="" style="left:276.65px;top:456.20px;width:2.00px;height:57.60px;background:#0a78ff;"></div>
<svg width="12.80" height="28.00" viewBox="0 0 24 53" preserveAspectRatio="none" style="left:271.25px;top:442.20px;">
<defs><linearGradient id="kg5" x1="0" x2="1" y1="0" y2="0"><stop offset="0" stop-color="#050505"/><stop offset=".18" stop-color="#2e2e2e"/><stop offset=".5" stop-color="#161616"/><stop offset=".82" stop-color="#2a2a2a"/><stop offset="1" stop-color="#050505"/></linearGradient>
<linearGradient id="kh5" x1="0" x2="0" y1="0" y2="1"><stop offset="0" stop-color="#4a4a4a"/><stop offset="1" stop-color="#0a0a0a"/></linearGradient></defs>
<path d="M12 0C18 0 23 1.5 23.6 7C24.2 14 21 20 21 26.5C21 33 24.2 39 23.6 46C23 51.5 18 53 12 53C6 53 1 51.5 .4 46C-.2 39 3 33 3 26.5C3 20 -.2 14 .4 7C1 1.5 6 0 12 0Z" fill="url(#kg5)"/>
<path d="M1.2 6.5C3 2.2 8 1 12 1C16 1 21 2.2 22.8 6.5C20 4.6 16 4 12 4C8 4 4 4.6 1.2 6.5Z" fill="url(#kh5)"/>
<path d="M1.5 11C6 8.2 18 8.2 22.5 11C22.3 12.5 22 13.6 21.8 14.4C17 11.6 7 11.6 2.2 14.4C2 13.6 1.7 12.5 1.5 11Z" fill="#000"/>
<path d="M1.4 39.9C6 44.3 18 44.3 22.6 39.9C22.7 40.3 22.8 40.7 22.9 41.1C18 46.2 6 46.2 1.1 41.1C1.2 40.7 1.3 40.3 1.4 39.9Z" fill="#ececec" opacity="0.55"/>

<circle cx="12" cy="24.9" r="9.5" fill="#1c1210"/>
<circle cx="12" cy="24.9" r="8.4" fill="#1590ff"/>
<rect x="2.3999999999999995" y="24.0" width="19.2" height="1.8" fill="#0a3f7a"/>
<rect x="2.3999999999999995" y="24.25" width="19.2" height="1.3" fill="#0c1410" opacity=".9"/>
</svg>
<span class="t" style="left:277.65px;top:515.37px;font-size:11.2px;line-height:11.2px;color:#111;font-weight:normal;font-style:normal;transform:translateX(-50%);">dB</span>
<div class="" style="left:323.35px;top:400.20px;width:2.00px;height:97.80px;background:#bfbfbf;"></div>
<div class="" style="left:323.35px;top:498.00px;width:2.00px;height:15.80px;background:#0a78ff;"></div>
<svg width="12.80" height="28.00" viewBox="0 0 24 53" preserveAspectRatio="none" style="left:317.95px;top:484.00px;">
<defs><linearGradient id="kg6" x1="0" x2="1" y1="0" y2="0"><stop offset="0" stop-color="#050505"/><stop offset=".18" stop-color="#2e2e2e"/><stop offset=".5" stop-color="#161616"/><stop offset=".82" stop-color="#2a2a2a"/><stop offset="1" stop-color="#050505"/></linearGradient>
<linearGradient id="kh6" x1="0" x2="0" y1="0" y2="1"><stop offset="0" stop-color="#4a4a4a"/><stop offset="1" stop-color="#0a0a0a"/></linearGradient></defs>
<path d="M12 0C18 0 23 1.5 23.6 7C24.2 14 21 20 21 26.5C21 33 24.2 39 23.6 46C23 51.5 18 53 12 53C6 53 1 51.5 .4 46C-.2 39 3 33 3 26.5C3 20 -.2 14 .4 7C1 1.5 6 0 12 0Z" fill="url(#kg6)"/>
<path d="M1.2 6.5C3 2.2 8 1 12 1C16 1 21 2.2 22.8 6.5C20 4.6 16 4 12 4C8 4 4 4.6 1.2 6.5Z" fill="url(#kh6)"/>
<path d="M1.5 11C6 8.2 18 8.2 22.5 11C22.3 12.5 22 13.6 21.8 14.4C17 11.6 7 11.6 2.2 14.4C2 13.6 1.7 12.5 1.5 11Z" fill="#000"/>
<path d="M1.4 39.9C6 44.3 18 44.3 22.6 39.9C22.7 40.3 22.8 40.7 22.9 41.1C18 46.2 6 46.2 1.1 41.1C1.2 40.7 1.3 40.3 1.4 39.9Z" fill="#ececec" opacity="0.55"/>

<circle cx="12" cy="24.9" r="9.5" fill="#1c1210"/>
<circle cx="12" cy="24.9" r="8.4" fill="#1590ff"/>
<rect x="2.3999999999999995" y="24.0" width="19.2" height="1.8" fill="#0a3f7a"/>
<rect x="2.3999999999999995" y="24.25" width="19.2" height="1.3" fill="#0c1410" opacity=".9"/>
</svg>
<span class="t" style="left:324.35px;top:515.37px;font-size:11.2px;line-height:11.2px;color:#111;font-weight:normal;font-style:normal;transform:translateX(-50%);">Qval</span>
<div class="" style="left:370.15px;top:400.20px;width:2.00px;height:96.20px;background:#bfbfbf;"></div>
<div class="" style="left:370.15px;top:496.40px;width:2.00px;height:17.40px;background:#0a78ff;"></div>
<svg width="12.80" height="28.00" viewBox="0 0 24 53" preserveAspectRatio="none" style="left:364.75px;top:482.40px;">
<defs><linearGradient id="kg7" x1="0" x2="1" y1="0" y2="0"><stop offset="0" stop-color="#050505"/><stop offset=".18" stop-color="#2e2e2e"/><stop offset=".5" stop-color="#161616"/><stop offset=".82" stop-color="#2a2a2a"/><stop offset="1" stop-color="#050505"/></linearGradient>
<linearGradient id="kh7" x1="0" x2="0" y1="0" y2="1"><stop offset="0" stop-color="#4a4a4a"/><stop offset="1" stop-color="#0a0a0a"/></linearGradient></defs>
<path d="M12 0C18 0 23 1.5 23.6 7C24.2 14 21 20 21 26.5C21 33 24.2 39 23.6 46C23 51.5 18 53 12 53C6 53 1 51.5 .4 46C-.2 39 3 33 3 26.5C3 20 -.2 14 .4 7C1 1.5 6 0 12 0Z" fill="url(#kg7)"/>
<path d="M1.2 6.5C3 2.2 8 1 12 1C16 1 21 2.2 22.8 6.5C20 4.6 16 4 12 4C8 4 4 4.6 1.2 6.5Z" fill="url(#kh7)"/>
<path d="M1.5 11C6 8.2 18 8.2 22.5 11C22.3 12.5 22 13.6 21.8 14.4C17 11.6 7 11.6 2.2 14.4C2 13.6 1.7 12.5 1.5 11Z" fill="#000"/>
<path d="M1.4 39.9C6 44.3 18 44.3 22.6 39.9C22.7 40.3 22.8 40.7 22.9 41.1C18 46.2 6 46.2 1.1 41.1C1.2 40.7 1.3 40.3 1.4 39.9Z" fill="#ececec" opacity="0.55"/>

<circle cx="12" cy="24.9" r="9.5" fill="#1c1210"/>
<circle cx="12" cy="24.9" r="8.4" fill="#1590ff"/>
<rect x="2.3999999999999995" y="24.0" width="19.2" height="1.8" fill="#0a3f7a"/>
<rect x="2.3999999999999995" y="24.25" width="19.2" height="1.3" fill="#0c1410" opacity=".9"/>
</svg>
<span class="t" style="left:371.15px;top:515.37px;font-size:11.2px;line-height:11.2px;color:#111;font-weight:normal;font-style:normal;transform:translateX(-50%);">Fval</span>
<div class="" style="left:410.20px;top:347.80px;width:47.00px;height:24.60px;background:#21f060;border-radius:5.5px;box-shadow:inset 0 2.5px 2.5px rgba(0,90,25,.7), inset 0 0 2px rgba(0,110,30,.5);"></div>
<span class="t" style="left:433.70px;top:354.97px;font-size:11.2px;line-height:11.2px;color:#00280a;font-weight:normal;font-style:normal;transform:translateX(-50%);">EQ-3</span>
<div class="btn" style="left:465.10px;top:348.00px;width:38.60px;height:24.00px;"></div>
<div class="btn" style="left:504.70px;top:348.00px;width:38.00px;height:24.00px;"></div>
<span class="s" style="left:474.30px;top:350.50px;font-size:18px;transform:scaleX(1.65);">-</span>
<span class="s" style="left:513.60px;top:351.80px;font-size:19px;">+</span>
<div class="panel" style="left:406.50px;top:375.40px;width:154.80px;height:155.60px;"></div>
<span class="t" style="left:434.00px;top:382.58px;font-size:11.3px;line-height:11.3px;color:#111;font-weight:normal;font-style:normal;transform:translateX(-50%);">-5.1dB</span>
<span class="t" style="left:480.70px;top:382.58px;font-size:11.3px;line-height:11.3px;color:#111;font-weight:normal;font-style:normal;transform:translateX(-50%);">0.8</span>
<span class="t" style="left:527.50px;top:382.58px;font-size:11.3px;line-height:11.3px;color:#111;font-weight:normal;font-style:normal;transform:translateX(-50%);">291Hz</span>
<div class="" style="left:433.00px;top:400.20px;width:2.00px;height:75.40px;background:#bfbfbf;"></div>
<div class="" style="left:433.00px;top:475.60px;width:2.00px;height:38.20px;background:#0a78ff;"></div>
<svg width="12.80" height="28.00" viewBox="0 0 24 53" preserveAspectRatio="none" style="left:427.60px;top:461.60px;">
<defs><linearGradient id="kg8" x1="0" x2="1" y1="0" y2="0"><stop offset="0" stop-color="#050505"/><stop offset=".18" stop-color="#2e2e2e"/><stop offset=".5" stop-color="#161616"/><stop offset=".82" stop-color="#2a2a2a"/><stop offset="1" stop-color="#050505"/></linearGradient>
<linearGradient id="kh8" x1="0" x2="0" y1="0" y2="1"><stop offset="0" stop-color="#4a4a4a"/><stop offset="1" stop-color="#0a0a0a"/></linearGradient></defs>
<path d="M12 0C18 0 23 1.5 23.6 7C24.2 14 21 20 21 26.5C21 33 24.2 39 23.6 46C23 51.5 18 53 12 53C6 53 1 51.5 .4 46C-.2 39 3 33 3 26.5C3 20 -.2 14 .4 7C1 1.5 6 0 12 0Z" fill="url(#kg8)"/>
<path d="M1.2 6.5C3 2.2 8 1 12 1C16 1 21 2.2 22.8 6.5C20 4.6 16 4 12 4C8 4 4 4.6 1.2 6.5Z" fill="url(#kh8)"/>
<path d="M1.5 11C6 8.2 18 8.2 22.5 11C22.3 12.5 22 13.6 21.8 14.4C17 11.6 7 11.6 2.2 14.4C2 13.6 1.7 12.5 1.5 11Z" fill="#000"/>
<path d="M1.4 39.9C6 44.3 18 44.3 22.6 39.9C22.7 40.3 22.8 40.7 22.9 41.1C18 46.2 6 46.2 1.1 41.1C1.2 40.7 1.3 40.3 1.4 39.9Z" fill="#ececec" opacity="0.55"/>

<circle cx="12" cy="24.9" r="9.5" fill="#1c1210"/>
<circle cx="12" cy="24.9" r="8.4" fill="#1590ff"/>
<rect x="2.3999999999999995" y="24.0" width="19.2" height="1.8" fill="#0a3f7a"/>
<rect x="2.3999999999999995" y="24.25" width="19.2" height="1.3" fill="#0c1410" opacity=".9"/>
</svg>
<span class="t" style="left:434.00px;top:515.37px;font-size:11.2px;line-height:11.2px;color:#111;font-weight:normal;font-style:normal;transform:translateX(-50%);">dB</span>
<div class="" style="left:479.70px;top:400.20px;width:2.00px;height:97.80px;background:#bfbfbf;"></div>
<div class="" style="left:479.70px;top:498.00px;width:2.00px;height:15.80px;background:#0a78ff;"></div>
<svg width="12.80" height="28.00" viewBox="0 0 24 53" preserveAspectRatio="none" style="left:474.30px;top:484.00px;">
<defs><linearGradient id="kg9" x1="0" x2="1" y1="0" y2="0"><stop offset="0" stop-color="#050505"/><stop offset=".18" stop-color="#2e2e2e"/><stop offset=".5" stop-color="#161616"/><stop offset=".82" stop-color="#2a2a2a"/><stop offset="1" stop-color="#050505"/></linearGradient>
<linearGradient id="kh9" x1="0" x2="0" y1="0" y2="1"><stop offset="0" stop-color="#4a4a4a"/><stop offset="1" stop-color="#0a0a0a"/></linearGradient></defs>
<path d="M12 0C18 0 23 1.5 23.6 7C24.2 14 21 20 21 26.5C21 33 24.2 39 23.6 46C23 51.5 18 53 12 53C6 53 1 51.5 .4 46C-.2 39 3 33 3 26.5C3 20 -.2 14 .4 7C1 1.5 6 0 12 0Z" fill="url(#kg9)"/>
<path d="M1.2 6.5C3 2.2 8 1 12 1C16 1 21 2.2 22.8 6.5C20 4.6 16 4 12 4C8 4 4 4.6 1.2 6.5Z" fill="url(#kh9)"/>
<path d="M1.5 11C6 8.2 18 8.2 22.5 11C22.3 12.5 22 13.6 21.8 14.4C17 11.6 7 11.6 2.2 14.4C2 13.6 1.7 12.5 1.5 11Z" fill="#000"/>
<path d="M1.4 39.9C6 44.3 18 44.3 22.6 39.9C22.7 40.3 22.8 40.7 22.9 41.1C18 46.2 6 46.2 1.1 41.1C1.2 40.7 1.3 40.3 1.4 39.9Z" fill="#ececec" opacity="0.55"/>

<circle cx="12" cy="24.9" r="9.5" fill="#1c1210"/>
<circle cx="12" cy="24.9" r="8.4" fill="#1590ff"/>
<rect x="2.3999999999999995" y="24.0" width="19.2" height="1.8" fill="#0a3f7a"/>
<rect x="2.3999999999999995" y="24.25" width="19.2" height="1.3" fill="#0c1410" opacity=".9"/>
</svg>
<span class="t" style="left:480.70px;top:515.37px;font-size:11.2px;line-height:11.2px;color:#111;font-weight:normal;font-style:normal;transform:translateX(-50%);">Qval</span>
<div class="" style="left:526.50px;top:400.20px;width:2.00px;height:94.80px;background:#bfbfbf;"></div>
<div class="" style="left:526.50px;top:495.00px;width:2.00px;height:18.80px;background:#0a78ff;"></div>
<svg width="12.80" height="28.00" viewBox="0 0 24 53" preserveAspectRatio="none" style="left:521.10px;top:481.00px;">
<defs><linearGradient id="kg10" x1="0" x2="1" y1="0" y2="0"><stop offset="0" stop-color="#050505"/><stop offset=".18" stop-color="#2e2e2e"/><stop offset=".5" stop-color="#161616"/><stop offset=".82" stop-color="#2a2a2a"/><stop offset="1" stop-color="#050505"/></linearGradient>
<linearGradient id="kh10" x1="0" x2="0" y1="0" y2="1"><stop offset="0" stop-color="#4a4a4a"/><stop offset="1" stop-color="#0a0a0a"/></linearGradient></defs>
<path d="M12 0C18 0 23 1.5 23.6 7C24.2 14 21 20 21 26.5C21 33 24.2 39 23.6 46C23 51.5 18 53 12 53C6 53 1 51.5 .4 46C-.2 39 3 33 3 26.5C3 20 -.2 14 .4 7C1 1.5 6 0 12 0Z" fill="url(#kg10)"/>
<path d="M1.2 6.5C3 2.2 8 1 12 1C16 1 21 2.2 22.8 6.5C20 4.6 16 4 12 4C8 4 4 4.6 1.2 6.5Z" fill="url(#kh10)"/>
<path d="M1.5 11C6 8.2 18 8.2 22.5 11C22.3 12.5 22 13.6 21.8 14.4C17 11.6 7 11.6 2.2 14.4C2 13.6 1.7 12.5 1.5 11Z" fill="#000"/>
<path d="M1.4 39.9C6 44.3 18 44.3 22.6 39.9C22.7 40.3 22.8 40.7 22.9 41.1C18 46.2 6 46.2 1.1 41.1C1.2 40.7 1.3 40.3 1.4 39.9Z" fill="#ececec" opacity="0.55"/>

<circle cx="12" cy="24.9" r="9.5" fill="#1c1210"/>
<circle cx="12" cy="24.9" r="8.4" fill="#1590ff"/>
<rect x="2.3999999999999995" y="24.0" width="19.2" height="1.8" fill="#0a3f7a"/>
<rect x="2.3999999999999995" y="24.25" width="19.2" height="1.3" fill="#0c1410" opacity=".9"/>
</svg>
<span class="t" style="left:527.50px;top:515.37px;font-size:11.2px;line-height:11.2px;color:#111;font-weight:normal;font-style:normal;transform:translateX(-50%);">Fval</span>
<div class="" style="left:566.55px;top:347.80px;width:47.00px;height:24.60px;background:#21f060;border-radius:5.5px;box-shadow:inset 0 2.5px 2.5px rgba(0,90,25,.7), inset 0 0 2px rgba(0,110,30,.5);"></div>
<span class="t" style="left:590.05px;top:354.97px;font-size:11.2px;line-height:11.2px;color:#00280a;font-weight:normal;font-style:normal;transform:translateX(-50%);">EQ-4</span>
<div class="btn" style="left:621.45px;top:348.00px;width:38.60px;height:24.00px;"></div>
<div class="btn" style="left:661.05px;top:348.00px;width:38.00px;height:24.00px;"></div>
<span class="s" style="left:630.65px;top:350.50px;font-size:18px;transform:scaleX(1.65);">-</span>
<span class="s" style="left:669.95px;top:351.80px;font-size:19px;">+</span>
<div class="panel" style="left:562.85px;top:375.40px;width:154.80px;height:155.60px;"></div>
<span class="t" style="left:590.35px;top:382.58px;font-size:11.3px;line-height:11.3px;color:#111;font-weight:normal;font-style:normal;transform:translateX(-50%);">0dB</span>
<span class="t" style="left:637.05px;top:382.58px;font-size:11.3px;line-height:11.3px;color:#111;font-weight:normal;font-style:normal;transform:translateX(-50%);">0.8</span>
<span class="t" style="left:683.85px;top:382.58px;font-size:11.3px;line-height:11.3px;color:#111;font-weight:normal;font-style:normal;transform:translateX(-50%);">500Hz</span>
<div class="" style="left:589.35px;top:400.20px;width:2.00px;height:56.20px;background:#bfbfbf;"></div>
<div class="" style="left:589.35px;top:456.40px;width:2.00px;height:57.40px;background:#0a78ff;"></div>
<svg width="12.80" height="28.00" viewBox="0 0 24 53" preserveAspectRatio="none" style="left:583.95px;top:442.40px;">
<defs><linearGradient id="kg11" x1="0" x2="1" y1="0" y2="0"><stop offset="0" stop-color="#050505"/><stop offset=".18" stop-color="#2e2e2e"/><stop offset=".5" stop-color="#161616"/><stop offset=".82" stop-color="#2a2a2a"/><stop offset="1" stop-color="#050505"/></linearGradient>
<linearGradient id="kh11" x1="0" x2="0" y1="0" y2="1"><stop offset="0" stop-color="#4a4a4a"/><stop offset="1" stop-color="#0a0a0a"/></linearGradient></defs>
<path d="M12 0C18 0 23 1.5 23.6 7C24.2 14 21 20 21 26.5C21 33 24.2 39 23.6 46C23 51.5 18 53 12 53C6 53 1 51.5 .4 46C-.2 39 3 33 3 26.5C3 20 -.2 14 .4 7C1 1.5 6 0 12 0Z" fill="url(#kg11)"/>
<path d="M1.2 6.5C3 2.2 8 1 12 1C16 1 21 2.2 22.8 6.5C20 4.6 16 4 12 4C8 4 4 4.6 1.2 6.5Z" fill="url(#kh11)"/>
<path d="M1.5 11C6 8.2 18 8.2 22.5 11C22.3 12.5 22 13.6 21.8 14.4C17 11.6 7 11.6 2.2 14.4C2 13.6 1.7 12.5 1.5 11Z" fill="#000"/>
<path d="M1.4 39.9C6 44.3 18 44.3 22.6 39.9C22.7 40.3 22.8 40.7 22.9 41.1C18 46.2 6 46.2 1.1 41.1C1.2 40.7 1.3 40.3 1.4 39.9Z" fill="#ececec" opacity="0.55"/>

<circle cx="12" cy="24.9" r="9.5" fill="#1c1210"/>
<circle cx="12" cy="24.9" r="8.4" fill="#1590ff"/>
<rect x="2.3999999999999995" y="24.0" width="19.2" height="1.8" fill="#0a3f7a"/>
<rect x="2.3999999999999995" y="24.25" width="19.2" height="1.3" fill="#0c1410" opacity=".9"/>
</svg>
<span class="t" style="left:590.35px;top:515.37px;font-size:11.2px;line-height:11.2px;color:#111;font-weight:normal;font-style:normal;transform:translateX(-50%);">dB</span>
<div class="" style="left:636.05px;top:400.20px;width:2.00px;height:97.60px;background:#bfbfbf;"></div>
<div class="" style="left:636.05px;top:497.80px;width:2.00px;height:16.00px;background:#0a78ff;"></div>
<svg width="12.80" height="28.00" viewBox="0 0 24 53" preserveAspectRatio="none" style="left:630.65px;top:483.80px;">
<defs><linearGradient id="kg12" x1="0" x2="1" y1="0" y2="0"><stop offset="0" stop-color="#050505"/><stop offset=".18" stop-color="#2e2e2e"/><stop offset=".5" stop-color="#161616"/><stop offset=".82" stop-color="#2a2a2a"/><stop offset="1" stop-color="#050505"/></linearGradient>
<linearGradient id="kh12" x1="0" x2="0" y1="0" y2="1"><stop offset="0" stop-color="#4a4a4a"/><stop offset="1" stop-color="#0a0a0a"/></linearGradient></defs>
<path d="M12 0C18 0 23 1.5 23.6 7C24.2 14 21 20 21 26.5C21 33 24.2 39 23.6 46C23 51.5 18 53 12 53C6 53 1 51.5 .4 46C-.2 39 3 33 3 26.5C3 20 -.2 14 .4 7C1 1.5 6 0 12 0Z" fill="url(#kg12)"/>
<path d="M1.2 6.5C3 2.2 8 1 12 1C16 1 21 2.2 22.8 6.5C20 4.6 16 4 12 4C8 4 4 4.6 1.2 6.5Z" fill="url(#kh12)"/>
<path d="M1.5 11C6 8.2 18 8.2 22.5 11C22.3 12.5 22 13.6 21.8 14.4C17 11.6 7 11.6 2.2 14.4C2 13.6 1.7 12.5 1.5 11Z" fill="#000"/>
<path d="M1.4 39.9C6 44.3 18 44.3 22.6 39.9C22.7 40.3 22.8 40.7 22.9 41.1C18 46.2 6 46.2 1.1 41.1C1.2 40.7 1.3 40.3 1.4 39.9Z" fill="#ececec" opacity="0.55"/>

<circle cx="12" cy="24.9" r="9.5" fill="#1c1210"/>
<circle cx="12" cy="24.9" r="8.4" fill="#1590ff"/>
<rect x="2.3999999999999995" y="24.0" width="19.2" height="1.8" fill="#0a3f7a"/>
<rect x="2.3999999999999995" y="24.25" width="19.2" height="1.3" fill="#0c1410" opacity=".9"/>
</svg>
<span class="t" style="left:637.05px;top:515.37px;font-size:11.2px;line-height:11.2px;color:#111;font-weight:normal;font-style:normal;transform:translateX(-50%);">Qval</span>
<div class="" style="left:682.85px;top:400.20px;width:2.00px;height:91.60px;background:#bfbfbf;"></div>
<div class="" style="left:682.85px;top:491.80px;width:2.00px;height:22.00px;background:#0a78ff;"></div>
<svg width="12.80" height="28.00" viewBox="0 0 24 53" preserveAspectRatio="none" style="left:677.45px;top:477.80px;">
<defs><linearGradient id="kg13" x1="0" x2="1" y1="0" y2="0"><stop offset="0" stop-color="#050505"/><stop offset=".18" stop-color="#2e2e2e"/><stop offset=".5" stop-color="#161616"/><stop offset=".82" stop-color="#2a2a2a"/><stop offset="1" stop-color="#050505"/></linearGradient>
<linearGradient id="kh13" x1="0" x2="0" y1="0" y2="1"><stop offset="0" stop-color="#4a4a4a"/><stop offset="1" stop-color="#0a0a0a"/></linearGradient></defs>
<path d="M12 0C18 0 23 1.5 23.6 7C24.2 14 21 20 21 26.5C21 33 24.2 39 23.6 46C23 51.5 18 53 12 53C6 53 1 51.5 .4 46C-.2 39 3 33 3 26.5C3 20 -.2 14 .4 7C1 1.5 6 0 12 0Z" fill="url(#kg13)"/>
<path d="M1.2 6.5C3 2.2 8 1 12 1C16 1 21 2.2 22.8 6.5C20 4.6 16 4 12 4C8 4 4 4.6 1.2 6.5Z" fill="url(#kh13)"/>
<path d="M1.5 11C6 8.2 18 8.2 22.5 11C22.3 12.5 22 13.6 21.8 14.4C17 11.6 7 11.6 2.2 14.4C2 13.6 1.7 12.5 1.5 11Z" fill="#000"/>
<path d="M1.4 39.9C6 44.3 18 44.3 22.6 39.9C22.7 40.3 22.8 40.7 22.9 41.1C18 46.2 6 46.2 1.1 41.1C1.2 40.7 1.3 40.3 1.4 39.9Z" fill="#ececec" opacity="0.55"/>

<circle cx="12" cy="24.9" r="9.5" fill="#1c1210"/>
<circle cx="12" cy="24.9" r="8.4" fill="#1590ff"/>
<rect x="2.3999999999999995" y="24.0" width="19.2" height="1.8" fill="#0a3f7a"/>
<rect x="2.3999999999999995" y="24.25" width="19.2" height="1.3" fill="#0c1410" opacity=".9"/>
</svg>
<span class="t" style="left:683.85px;top:515.37px;font-size:11.2px;line-height:11.2px;color:#111;font-weight:normal;font-style:normal;transform:translateX(-50%);">Fval</span>
<div class="" style="left:722.90px;top:347.80px;width:47.00px;height:24.60px;background:#21f060;border-radius:5.5px;box-shadow:inset 0 2.5px 2.5px rgba(0,90,25,.7), inset 0 0 2px rgba(0,110,30,.5);"></div>
<span class="t" style="left:746.40px;top:354.97px;font-size:11.2px;line-height:11.2px;color:#00280a;font-weight:normal;font-style:normal;transform:translateX(-50%);">EQ-5</span>
<div class="btn" style="left:777.80px;top:348.00px;width:38.60px;height:24.00px;"></div>
<div class="btn" style="left:817.40px;top:348.00px;width:38.00px;height:24.00px;"></div>
<span class="s" style="left:787.00px;top:350.50px;font-size:18px;transform:scaleX(1.65);">-</span>
<span class="s" style="left:826.30px;top:351.80px;font-size:19px;">+</span>
<div class="panel" style="left:719.20px;top:375.40px;width:154.80px;height:155.60px;"></div>
<span class="t" style="left:746.70px;top:382.58px;font-size:11.3px;line-height:11.3px;color:#111;font-weight:normal;font-style:normal;transform:translateX(-50%);">0dB</span>
<span class="t" style="left:793.40px;top:382.58px;font-size:11.3px;line-height:11.3px;color:#111;font-weight:normal;font-style:normal;transform:translateX(-50%);">0.8</span>
<span class="t" style="left:840.20px;top:382.58px;font-size:11.3px;line-height:11.3px;color:#111;font-weight:normal;font-style:normal;transform:translateX(-50%);">720Hz</span>
<div class="" style="left:745.70px;top:400.20px;width:2.00px;height:56.20px;background:#bfbfbf;"></div>
<div class="" style="left:745.70px;top:456.40px;width:2.00px;height:57.40px;background:#0a78ff;"></div>
<svg width="12.80" height="28.00" viewBox="0 0 24 53" preserveAspectRatio="none" style="left:740.30px;top:442.40px;">
<defs><linearGradient id="kg14" x1="0" x2="1" y1="0" y2="0"><stop offset="0" stop-color="#050505"/><stop offset=".18" stop-color="#2e2e2e"/><stop offset=".5" stop-color="#161616"/><stop offset=".82" stop-color="#2a2a2a"/><stop offset="1" stop-color="#050505"/></linearGradient>
<linearGradient id="kh14" x1="0" x2="0" y1="0" y2="1"><stop offset="0" stop-color="#4a4a4a"/><stop offset="1" stop-color="#0a0a0a"/></linearGradient></defs>
<path d="M12 0C18 0 23 1.5 23.6 7C24.2 14 21 20 21 26.5C21 33 24.2 39 23.6 46C23 51.5 18 53 12 53C6 53 1 51.5 .4 46C-.2 39 3 33 3 26.5C3 20 -.2 14 .4 7C1 1.5 6 0 12 0Z" fill="url(#kg14)"/>
<path d="M1.2 6.5C3 2.2 8 1 12 1C16 1 21 2.2 22.8 6.5C20 4.6 16 4 12 4C8 4 4 4.6 1.2 6.5Z" fill="url(#kh14)"/>
<path d="M1.5 11C6 8.2 18 8.2 22.5 11C22.3 12.5 22 13.6 21.8 14.4C17 11.6 7 11.6 2.2 14.4C2 13.6 1.7 12.5 1.5 11Z" fill="#000"/>
<path d="M1.4 39.9C6 44.3 18 44.3 22.6 39.9C22.7 40.3 22.8 40.7 22.9 41.1C18 46.2 6 46.2 1.1 41.1C1.2 40.7 1.3 40.3 1.4 39.9Z" fill="#ececec" opacity="0.55"/>

<circle cx="12" cy="24.9" r="9.5" fill="#1c1210"/>
<circle cx="12" cy="24.9" r="8.4" fill="#1590ff"/>
<rect x="2.3999999999999995" y="24.0" width="19.2" height="1.8" fill="#0a3f7a"/>
<rect x="2.3999999999999995" y="24.25" width="19.2" height="1.3" fill="#0c1410" opacity=".9"/>
</svg>
<span class="t" style="left:746.70px;top:515.37px;font-size:11.2px;line-height:11.2px;color:#111;font-weight:normal;font-style:normal;transform:translateX(-50%);">dB</span>
<div class="" style="left:792.40px;top:400.20px;width:2.00px;height:97.60px;background:#bfbfbf;"></div>
<div class="" style="left:792.40px;top:497.80px;width:2.00px;height:16.00px;background:#0a78ff;"></div>
<svg width="12.80" height="28.00" viewBox="0 0 24 53" preserveAspectRatio="none" style="left:787.00px;top:483.80px;">
<defs><linearGradient id="kg15" x1="0" x2="1" y1="0" y2="0"><stop offset="0" stop-color="#050505"/><stop offset=".18" stop-color="#2e2e2e"/><stop offset=".5" stop-color="#161616"/><stop offset=".82" stop-color="#2a2a2a"/><stop offset="1" stop-color="#050505"/></linearGradient>
<linearGradient id="kh15" x1="0" x2="0" y1="0" y2="1"><stop offset="0" stop-color="#4a4a4a"/><stop offset="1" stop-color="#0a0a0a"/></linearGradient></defs>
<path d="M12 0C18 0 23 1.5 23.6 7C24.2 14 21 20 21 26.5C21 33 24.2 39 23.6 46C23 51.5 18 53 12 53C6 53 1 51.5 .4 46C-.2 39 3 33 3 26.5C3 20 -.2 14 .4 7C1 1.5 6 0 12 0Z" fill="url(#kg15)"/>
<path d="M1.2 6.5C3 2.2 8 1 12 1C16 1 21 2.2 22.8 6.5C20 4.6 16 4 12 4C8 4 4 4.6 1.2 6.5Z" fill="url(#kh15)"/>
<path d="M1.5 11C6 8.2 18 8.2 22.5 11C22.3 12.5 22 13.6 21.8 14.4C17 11.6 7 11.6 2.2 14.4C2 13.6 1.7 12.5 1.5 11Z" fill="#000"/>
<path d="M1.4 39.9C6 44.3 18 44.3 22.6 39.9C22.7 40.3 22.8 40.7 22.9 41.1C18 46.2 6 46.2 1.1 41.1C1.2 40.7 1.3 40.3 1.4 39.9Z" fill="#ececec" opacity="0.55"/>

<circle cx="12" cy="24.9" r="9.5" fill="#1c1210"/>
<circle cx="12" cy="24.9" r="8.4" fill="#1590ff"/>
<rect x="2.3999999999999995" y="24.0" width="19.2" height="1.8" fill="#0a3f7a"/>
<rect x="2.3999999999999995" y="24.25" width="19.2" height="1.3" fill="#0c1410" opacity=".9"/>
</svg>
<span class="t" style="left:793.40px;top:515.37px;font-size:11.2px;line-height:11.2px;color:#111;font-weight:normal;font-style:normal;transform:translateX(-50%);">Qval</span>
<div class="" style="left:839.20px;top:400.20px;width:2.00px;height:89.30px;background:#bfbfbf;"></div>
<div class="" style="left:839.20px;top:489.50px;width:2.00px;height:24.30px;background:#0a78ff;"></div>
<svg width="12.80" height="28.00" viewBox="0 0 24 53" preserveAspectRatio="none" style="left:833.80px;top:475.50px;">
<defs><linearGradient id="kg16" x1="0" x2="1" y1="0" y2="0"><stop offset="0" stop-color="#050505"/><stop offset=".18" stop-color="#2e2e2e"/><stop offset=".5" stop-color="#161616"/><stop offset=".82" stop-color="#2a2a2a"/><stop offset="1" stop-color="#050505"/></linearGradient>
<linearGradient id="kh16" x1="0" x2="0" y1="0" y2="1"><stop offset="0" stop-color="#4a4a4a"/><stop offset="1" stop-color="#0a0a0a"/></linearGradient></defs>
<path d="M12 0C18 0 23 1.5 23.6 7C24.2 14 21 20 21 26.5C21 33 24.2 39 23.6 46C23 51.5 18 53 12 53C6 53 1 51.5 .4 46C-.2 39 3 33 3 26.5C3 20 -.2 14 .4 7C1 1.5 6 0 12 0Z" fill="url(#kg16)"/>
<path d="M1.2 6.5C3 2.2 8 1 12 1C16 1 21 2.2 22.8 6.5C20 4.6 16 4 12 4C8 4 4 4.6 1.2 6.5Z" fill="url(#kh16)"/>
<path d="M1.5 11C6 8.2 18 8.2 22.5 11C22.3 12.5 22 13.6 21.8 14.4C17 11.6 7 11.6 2.2 14.4C2 13.6 1.7 12.5 1.5 11Z" fill="#000"/>
<path d="M1.4 39.9C6 44.3 18 44.3 22.6 39.9C22.7 40.3 22.8 40.7 22.9 41.1C18 46.2 6 46.2 1.1 41.1C1.2 40.7 1.3 40.3 1.4 39.9Z" fill="#ececec" opacity="0.55"/>

<circle cx="12" cy="24.9" r="9.5" fill="#1c1210"/>
<circle cx="12" cy="24.9" r="8.4" fill="#1590ff"/>
<rect x="2.3999999999999995" y="24.0" width="19.2" height="1.8" fill="#0a3f7a"/>
<rect x="2.3999999999999995" y="24.25" width="19.2" height="1.3" fill="#0c1410" opacity=".9"/>
</svg>
<span class="t" style="left:840.20px;top:515.37px;font-size:11.2px;line-height:11.2px;color:#111;font-weight:normal;font-style:normal;transform:translateX(-50%);">Fval</span>
<div class="" style="left:90.20px;top:530.60px;width:709.80px;height:69.40px;background:#fff;box-shadow:inset .9px 0 0 #dde0da;"></div>
<span class="t" style="left:98.00px;top:534.72px;font-size:11.2px;line-height:11.2px;color:#111;font-weight:normal;font-style:normal;letter-spacing:-.3px;">HPF:</span>
<span class="t" style="left:155.00px;top:534.72px;font-size:11.2px;line-height:11.2px;color:#111;font-weight:normal;font-style:normal;">70Hz</span>
<div class="btn2" style="left:93.75px;top:547.40px;width:38.75px;height:23.80px;"></div>
<div class="btn2" style="left:133.25px;top:547.40px;width:38.00px;height:23.80px;"></div>
<span class="s" style="left:103.10px;top:549.90px;font-size:18px;transform:scaleX(1.65);">-</span>
<span class="s" style="left:142.30px;top:551.30px;font-size:19px;">+</span>
<div class="btn2" style="left:191.25px;top:547.50px;width:62.50px;height:23.00px;"></div>
<span class="t" style="left:222.60px;top:553.97px;font-size:11.2px;line-height:11.2px;color:#111;font-weight:normal;font-style:normal;transform:translateX(-50%);">Bw-12dB</span>
<div class="" style="left:96.00px;top:585.00px;width:152.20px;height:1.60px;background:#bdbdbd;"></div>
<div class="" style="left:95.60px;top:584.80px;width:14.60px;height:2.00px;background:#0a78ff;"></div>
<svg width="12.60" height="27.60" viewBox="0 0 24 53" preserveAspectRatio="none" style="left:103.90px;top:572.20px;transform:rotate(90deg);">
<defs><linearGradient id="kg17" x1="0" x2="1" y1="0" y2="0"><stop offset="0" stop-color="#050505"/><stop offset=".18" stop-color="#2e2e2e"/><stop offset=".5" stop-color="#161616"/><stop offset=".82" stop-color="#2a2a2a"/><stop offset="1" stop-color="#050505"/></linearGradient>
<linearGradient id="kh17" x1="0" x2="0" y1="0" y2="1"><stop offset="0" stop-color="#4a4a4a"/><stop offset="1" stop-color="#0a0a0a"/></linearGradient></defs>
<path d="M12 0C18 0 23 1.5 23.6 7C24.2 14 21 20 21 26.5C21 33 24.2 39 23.6 46C23 51.5 18 53 12 53C6 53 1 51.5 .4 46C-.2 39 3 33 3 26.5C3 20 -.2 14 .4 7C1 1.5 6 0 12 0Z" fill="url(#kg17)"/>
<path d="M1.2 6.5C3 2.2 8 1 12 1C16 1 21 2.2 22.8 6.5C20 4.6 16 4 12 4C8 4 4 4.6 1.2 6.5Z" fill="url(#kh17)"/>
<path d="M1.5 11C6 8.2 18 8.2 22.5 11C22.3 12.5 22 13.6 21.8 14.4C17 11.6 7 11.6 2.2 14.4C2 13.6 1.7 12.5 1.5 11Z" fill="#000"/>
<path d="M1.4 39.9C6 44.3 18 44.3 22.6 39.9C22.7 40.3 22.8 40.7 22.9 41.1C18 46.2 6 46.2 1.1 41.1C1.2 40.7 1.3 40.3 1.4 39.9Z" fill="#ececec" opacity="0.55"/>

<circle cx="12" cy="24.9" r="9.5" fill="#1c1210"/>
<circle cx="12" cy="24.9" r="8.4" fill="#1590ff"/>
<rect x="2.3999999999999995" y="24.0" width="19.2" height="1.8" fill="#0a3f7a"/>
<rect x="2.3999999999999995" y="24.25" width="19.2" height="1.3" fill="#0c1410" opacity=".9"/>
</svg>
<span class="t" style="left:278.25px;top:534.72px;font-size:11.2px;line-height:11.2px;color:#111;font-weight:normal;font-style:normal;letter-spacing:-.3px;">LPF:</span>
<span class="t" style="left:321.25px;top:534.72px;font-size:11.2px;line-height:11.2px;color:#111;font-weight:normal;font-style:normal;">12000Hz</span>
<div class="btn2" style="left:273.75px;top:547.40px;width:38.75px;height:23.80px;"></div>
<div class="btn2" style="left:313.25px;top:547.40px;width:38.00px;height:23.80px;"></div>
<span class="s" style="left:283.10px;top:549.90px;font-size:18px;transform:scaleX(1.65);">-</span>
<span class="s" style="left:322.30px;top:551.30px;font-size:19px;">+</span>
<div class="btn2" style="left:371.25px;top:547.50px;width:62.50px;height:23.00px;"></div>
<span class="t" style="left:402.60px;top:553.97px;font-size:11.2px;line-height:11.2px;color:#111;font-weight:normal;font-style:normal;transform:translateX(-50%);">Bes-12dB</span>
<div class="" style="left:275.20px;top:585.00px;width:152.20px;height:1.60px;background:#bdbdbd;"></div>
<div class="" style="left:274.80px;top:584.80px;width:104.80px;height:2.00px;background:#0a78ff;"></div>
<svg width="12.60" height="27.60" viewBox="0 0 24 53" preserveAspectRatio="none" style="left:373.30px;top:572.20px;transform:rotate(90deg);">
<defs><linearGradient id="kg18" x1="0" x2="1" y1="0" y2="0"><stop offset="0" stop-color="#050505"/><stop offset=".18" stop-color="#2e2e2e"/><stop offset=".5" stop-color="#161616"/><stop offset=".82" stop-color="#2a2a2a"/><stop offset="1" stop-color="#050505"/></linearGradient>
<linearGradient id="kh18" x1="0" x2="0" y1="0" y2="1"><stop offset="0" stop-color="#4a4a4a"/><stop offset="1" stop-color="#0a0a0a"/></linearGradient></defs>
<path d="M12 0C18 0 23 1.5 23.6 7C24.2 14 21 20 21 26.5C21 33 24.2 39 23.6 46C23 51.5 18 53 12 53C6 53 1 51.5 .4 46C-.2 39 3 33 3 26.5C3 20 -.2 14 .4 7C1 1.5 6 0 12 0Z" fill="url(#kg18)"/>
<path d="M1.2 6.5C3 2.2 8 1 12 1C16 1 21 2.2 22.8 6.5C20 4.6 16 4 12 4C8 4 4 4.6 1.2 6.5Z" fill="url(#kh18)"/>
<path d="M1.5 11C6 8.2 18 8.2 22.5 11C22.3 12.5 22 13.6 21.8 14.4C17 11.6 7 11.6 2.2 14.4C2 13.6 1.7 12.5 1.5 11Z" fill="#000"/>
<path d="M1.4 39.9C6 44.3 18 44.3 22.6 39.9C22.7 40.3 22.8 40.7 22.9 41.1C18 46.2 6 46.2 1.1 41.1C1.2 40.7 1.3 40.3 1.4 39.9Z" fill="#ececec" opacity="0.55"/>

<circle cx="12" cy="24.9" r="9.5" fill="#1c1210"/>
<circle cx="12" cy="24.9" r="8.4" fill="#1590ff"/>
<rect x="2.3999999999999995" y="24.0" width="19.2" height="1.8" fill="#0a3f7a"/>
<rect x="2.3999999999999995" y="24.25" width="19.2" height="1.3" fill="#0c1410" opacity=".9"/>
</svg>
<span class="t" style="left:450.50px;top:534.72px;font-size:11.2px;line-height:11.2px;color:#111;font-weight:normal;font-style:normal;letter-spacing:-.1px;">DelayL:</span>
<span class="t" style="left:500.75px;top:534.72px;font-size:11.2px;line-height:11.2px;color:#111;font-weight:normal;font-style:normal;">3.3ms</span>
<div class="btn2" style="left:453.35px;top:547.40px;width:38.75px;height:23.80px;"></div>
<div class="btn2" style="left:492.85px;top:547.40px;width:38.00px;height:23.80px;"></div>
<span class="s" style="left:462.70px;top:549.90px;font-size:18px;transform:scaleX(1.65);">-</span>
<span class="s" style="left:501.90px;top:551.30px;font-size:19px;">+</span>
<div class="" style="left:455.00px;top:585.00px;width:152.20px;height:1.60px;background:#bdbdbd;"></div>
<div class="" style="left:454.60px;top:584.80px;width:26.40px;height:2.00px;background:#0a78ff;"></div>
<svg width="12.60" height="27.60" viewBox="0 0 24 53" preserveAspectRatio="none" style="left:474.70px;top:572.20px;transform:rotate(90deg);">
<defs><linearGradient id="kg19" x1="0" x2="1" y1="0" y2="0"><stop offset="0" stop-color="#050505"/><stop offset=".18" stop-color="#2e2e2e"/><stop offset=".5" stop-color="#161616"/><stop offset=".82" stop-color="#2a2a2a"/><stop offset="1" stop-color="#050505"/></linearGradient>
<linearGradient id="kh19" x1="0" x2="0" y1="0" y2="1"><stop offset="0" stop-color="#4a4a4a"/><stop offset="1" stop-color="#0a0a0a"/></linearGradient></defs>
<path d="M12 0C18 0 23 1.5 23.6 7C24.2 14 21 20 21 26.5C21 33 24.2 39 23.6 46C23 51.5 18 53 12 53C6 53 1 51.5 .4 46C-.2 39 3 33 3 26.5C3 20 -.2 14 .4 7C1 1.5 6 0 12 0Z" fill="url(#kg19)"/>
<path d="M1.2 6.5C3 2.2 8 1 12 1C16 1 21 2.2 22.8 6.5C20 4.6 16 4 12 4C8 4 4 4.6 1.2 6.5Z" fill="url(#kh19)"/>
<path d="M1.5 11C6 8.2 18 8.2 22.5 11C22.3 12.5 22 13.6 21.8 14.4C17 11.6 7 11.6 2.2 14.4C2 13.6 1.7 12.5 1.5 11Z" fill="#000"/>
<path d="M1.4 39.9C6 44.3 18 44.3 22.6 39.9C22.7 40.3 22.8 40.7 22.9 41.1C18 46.2 6 46.2 1.1 41.1C1.2 40.7 1.3 40.3 1.4 39.9Z" fill="#ececec" opacity="0.55"/>

<circle cx="12" cy="24.9" r="9.5" fill="#1c1210"/>
<circle cx="12" cy="24.9" r="8.4" fill="#1590ff"/>
<rect x="2.3999999999999995" y="24.0" width="19.2" height="1.8" fill="#0a3f7a"/>
<rect x="2.3999999999999995" y="24.25" width="19.2" height="1.3" fill="#0c1410" opacity=".9"/>
</svg>
<span class="t" style="left:629.50px;top:534.72px;font-size:11.2px;line-height:11.2px;color:#111;font-weight:normal;font-style:normal;letter-spacing:-.1px;">DelayR:</span>
<span class="t" style="left:672.50px;top:534.72px;font-size:11.2px;line-height:11.2px;color:#111;font-weight:normal;font-style:normal;">3.9ms</span>
<div class="btn2" style="left:633.25px;top:547.40px;width:38.75px;height:23.80px;"></div>
<div class="btn2" style="left:672.75px;top:547.40px;width:38.00px;height:23.80px;"></div>
<span class="s" style="left:642.60px;top:549.90px;font-size:18px;transform:scaleX(1.65);">-</span>
<span class="s" style="left:681.80px;top:551.30px;font-size:19px;">+</span>
<div class="" style="left:634.70px;top:585.00px;width:152.20px;height:1.60px;background:#bdbdbd;"></div>
<div class="" style="left:634.30px;top:584.80px;width:28.80px;height:2.00px;background:#0a78ff;"></div>
<svg width="12.60" height="27.60" viewBox="0 0 24 53" preserveAspectRatio="none" style="left:656.80px;top:572.20px;transform:rotate(90deg);">
<defs><linearGradient id="kg20" x1="0" x2="1" y1="0" y2="0"><stop offset="0" stop-color="#050505"/><stop offset=".18" stop-color="#2e2e2e"/><stop offset=".5" stop-color="#161616"/><stop offset=".82" stop-color="#2a2a2a"/><stop offset="1" stop-color="#050505"/></linearGradient>
<linearGradient id="kh20" x1="0" x2="0" y1="0" y2="1"><stop offset="0" stop-color="#4a4a4a"/><stop offset="1" stop-color="#0a0a0a"/></linearGradient></defs>
<path d="M12 0C18 0 23 1.5 23.6 7C24.2 14 21 20 21 26.5C21 33 24.2 39 23.6 46C23 51.5 18 53 12 53C6 53 1 51.5 .4 46C-.2 39 3 33 3 26.5C3 20 -.2 14 .4 7C1 1.5 6 0 12 0Z" fill="url(#kg20)"/>
<path d="M1.2 6.5C3 2.2 8 1 12 1C16 1 21 2.2 22.8 6.5C20 4.6 16 4 12 4C8 4 4 4.6 1.2 6.5Z" fill="url(#kh20)"/>
<path d="M1.5 11C6 8.2 18 8.2 22.5 11C22.3 12.5 22 13.6 21.8 14.4C17 11.6 7 11.6 2.2 14.4C2 13.6 1.7 12.5 1.5 11Z" fill="#000"/>
<path d="M1.4 39.9C6 44.3 18 44.3 22.6 39.9C22.7 40.3 22.8 40.7 22.9 41.1C18 46.2 6 46.2 1.1 41.1C1.2 40.7 1.3 40.3 1.4 39.9Z" fill="#ececec" opacity="0.55"/>

<circle cx="12" cy="24.9" r="9.5" fill="#1c1210"/>
<circle cx="12" cy="24.9" r="8.4" fill="#1590ff"/>
<rect x="2.3999999999999995" y="24.0" width="19.2" height="1.8" fill="#0a3f7a"/>
<rect x="2.3999999999999995" y="24.25" width="19.2" height="1.3" fill="#0c1410" opacity=".9"/>
</svg>
</body></html>
